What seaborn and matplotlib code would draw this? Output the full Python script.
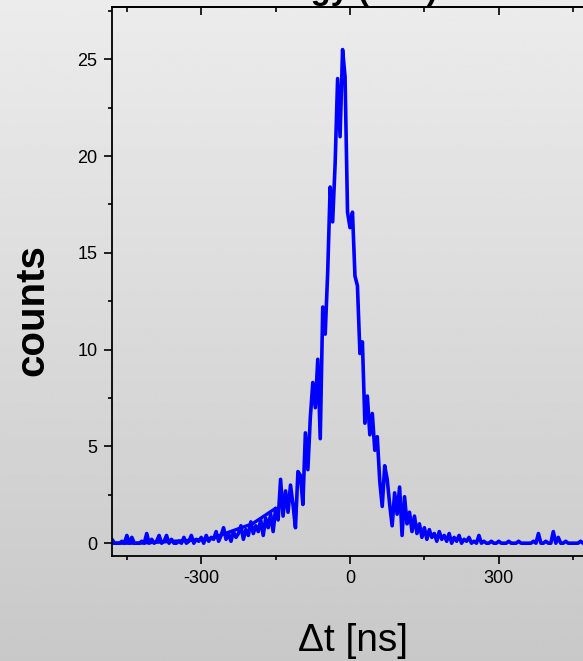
import numpy as np
import pandas as pd
import matplotlib
matplotlib.use("Agg")
import matplotlib.pyplot as plt
from matplotlib.ticker import MultipleLocator
import seaborn as sns

# --- data (bins of 5 ns) ---
dt_ns = np.arange(-480, 481, 5)
counts = [
    0.2, 0, 0, 0, 0.1, 0, 0.4, 0, 0.3, 0,          # -480 .. -435
    0, 0, 0.1, 0, 0.5, 0, 0.2, 0, 0.1, 0.4,        # -430 .. -385
    0, 0.1, 0.4, 0, 0.2, 0, 0, 0.1, 0, 0.3,        # -380 .. -335
    0, 0.1, 0.4, 0, 0.2, 0.1, 0.3, 0, 0.4, 0.1,    # -330 .. -285
    0.3, 0.2, 0.6, 0.1, 0.4, 0.8, 0.2, 0.5, 0.1, 0.6,  # -280 .. -235
    0.3, 0.5, 0.9, 0.2, 0.7, 0.4, 1.1, 0.5, 0.9, 0.6,  # -230 .. -185
    1.2, 0.4, 1.3, 0.8, 1.5, 0.6, 1.8, 1.2, 3.3, 1.4,  # -180 .. -135
    2.7, 1.6, 3.0, 2.0, 0.8, 3.7, 3.5, 2.0, 5.7, 3.8,  # -130 .. -85
    6.5, 8.3, 7.0, 9.5, 5.4, 12.2, 10.8, 14.0, 18.4, 16.6,  # -80 .. -35
    19.6, 24.0, 21.0, 25.5, 24.1, 17.1, 16.3, 17.1, 13.8, 13.3,  # -30 .. 15
    9.8, 10.4, 6.2, 7.6, 5.6, 6.7, 4.8, 5.5, 3.2, 1.9,  # 20 .. 65
    4.0, 3.3, 2.0, 0.9, 2.6, 1.5, 2.9, 0.4, 2.4, 1.0,  # 70 .. 115
    1.6, 0.6, 1.4, 0.5, 1.0, 0.3, 0.8, 0.2, 0.7, 0.3,  # 120 .. 165
    0.5, 0.1, 0.6, 0.2, 0.4, 0.1, 0.5, 0, 0.3, 0.1,    # 170 .. 215
    0.4, 0, 0.2, 0.1, 0.3, 0, 0.1, 0, 0.4, 0,          # 220 .. 265
    0.1, 0, 0, 0.1, 0, 0, 0.1, 0, 0, 0,                # 270 .. 315
    0.1, 0, 0, 0, 0.1, 0, 0, 0, 0, 0,                  # 320 .. 365
    0.1, 0, 0.5, 0, 0, 0.1, 0, 0, 0.6, 0,              # 370 .. 415
    0.3, 0, 0, 0.1, 0, 0, 0, 0, 0, 0.1,                # 420 .. 465
    0, 0, 0,                                           # 470 .. 480
]

# straight guide segments visible along the left baseline
guide_dt = [-480, -425, -285, -197, -150]
guide_counts = [0, 0, 0.2, 1.0, 1.8]

df = pd.DataFrame({"dt": dt_ns, "counts": counts})
df_guide = pd.DataFrame({"dt": guide_dt, "counts": guide_counts})

sns.set_style("ticks")
plt.rcParams["font.family"] = ["Liberation Sans", "DejaVu Sans"]
plt.rcParams["axes.unicode_minus"] = False
plt.rcParams["text.color"] = "black"
plt.rcParams["xtick.color"] = "black"
plt.rcParams["ytick.color"] = "black"

fig = plt.figure(figsize=(5.83, 6.61), dpi=100)

# grey vertical gradient behind everything
bg = fig.add_axes([0, 0, 1, 1], zorder=-1)
grad = np.linspace(0.925, 0.785, 256).reshape(-1, 1)
bg.imshow(grad, aspect="auto", cmap="gray", vmin=0, vmax=1,
          extent=[0, 1, 0, 1])
bg.axis("off")

ax = fig.add_axes([0.1921, 0.1589, 0.8165, 0.8305])
ax.set_facecolor("none")

sns.lineplot(data=df_guide, x="dt", y="counts", ax=ax, color="#0000ff",
             linewidth=2.4, estimator=None, sort=False)
sns.lineplot(data=df, x="dt", y="counts", ax=ax, color="#0000ff",
             linewidth=2.6, estimator=None)

ax.set_xlim(-480, 480)
ax.set_ylim(-0.66, 27.7)
ax.xaxis.set_major_locator(MultipleLocator(300))
ax.xaxis.set_minor_locator(MultipleLocator(150))
ax.yaxis.set_major_locator(MultipleLocator(5))
ax.yaxis.set_minor_locator(MultipleLocator(2.5))

ax.tick_params(which="major", direction="out", length=6, width=1.2,
               labelsize=13, colors="black")
ax.tick_params(which="minor", direction="out", length=3, width=1.2,
               colors="black")
ax.tick_params(axis="y", pad=4.5)
ax.tick_params(axis="x", pad=4)

for s in ["left", "bottom", "top"]:
    ax.spines[s].set_visible(True)
    ax.spines[s].set_linewidth(1.3)
    ax.spines[s].set_color("black")
ax.spines["right"].set_visible(False)

top = ax.secondary_xaxis("top")
top.xaxis.set_major_locator(MultipleLocator(300))
top.xaxis.set_minor_locator(MultipleLocator(150))
top.tick_params(which="major", direction="in", length=6, width=1.2,
                labelbottom=False, labeltop=False, colors="black")
top.tick_params(which="minor", direction="in", length=3.5, width=1.2,
                colors="black")
top.spines["top"].set_linewidth(1.3)
top.spines["top"].set_color("black")

ax.set_xlabel("")
ax.set_ylabel("")

fig.text(0.6055, 0.0151, "\u0394t [ns]", ha="center", va="baseline",
         fontsize=28, color="black")
fig.text(0.055, 0.531, "counts", ha="center", va="center", rotation=90,
         fontsize=29, fontweight="bold", color="black")
# the title sits mostly above the figure edge, as in the reference
fig.text(0.579, 1.0015, "Energy (keV)", ha="center", va="baseline",
         fontsize=23.5, fontweight="bold", color="black")

fig.savefig("out.png", dpi=100)
